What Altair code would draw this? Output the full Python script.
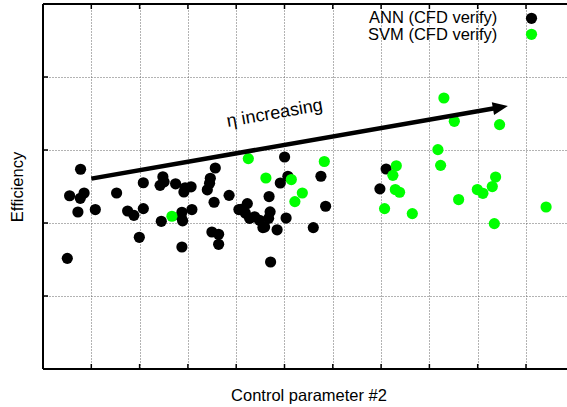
import altair as alt
import pandas as pd

# ---- data (axis units: grid lines at integers) ----
series_names = ["ANN (CFD verify)", "SVM (CFD verify)"]

ann_x = [0.778, 0.551, 0.772, 0.851, 0.723, 1.083, 0.503, 1.524, 1.752, 1.882,
         2.077, 1.994, 2.077, 2.482, 2.424, 2.507, 2.745, 2.942, 2.917, 3.066,
         2.449, 2.876, 2.890, 2.859, 3.083, 2.876, 3.497, 3.636, 3.636, 3.567,
         3.464, 3.449, 3.402, 3.542, 3.853, 4.056, 5.002, 5.070, 4.913, 4.681,
         4.230, 4.101, 4.188, 4.277, 4.381, 4.484, 4.588, 4.702, 4.671, 4.553,
         4.847, 5.033, 4.712, 5.596, 5.754, 5.851, 7.104, 6.975]
ann_y = [2.736, 2.373, 2.338, 2.411, 2.151, 2.184, 1.516, 2.411, 2.164, 2.105,
         2.197, 1.804, 2.551, 2.633, 2.516, 2.564, 2.537, 2.482, 2.425, 2.496,
         2.023, 2.147, 2.030, 2.085, 2.184, 1.671, 1.877, 1.845, 1.708, 2.753,
         2.612, 2.544, 2.455, 2.284, 2.379, 2.184, 2.904, 2.640, 2.548, 2.362,
         2.266, 2.188, 2.137, 2.064, 2.085, 2.037, 1.945, 2.153, 2.064, 1.937,
         1.907, 2.068, 1.466, 1.937, 2.640, 2.229, 2.740, 2.468]

svm_x = [2.669, 4.251, 4.615, 5.141, 5.369, 5.215, 5.824, 7.315, 7.244, 7.294,
         7.383, 7.072, 7.646, 8.300, 8.516, 9.453, 8.176, 8.232, 9.371, 9.302,
         8.992, 9.108, 8.605, 10.416, 9.344]
svm_y = [2.092, 2.882, 2.616, 2.595, 2.411, 2.293, 2.842, 2.784, 2.653, 2.458,
         2.421, 2.197, 2.129, 3.712, 3.393, 3.348, 3.005, 2.790, 2.630, 2.499,
         2.458, 2.407, 2.321, 2.219, 1.992]

# annotation arrow (start, head centre) and its label
arrow_x = [1.0, 9.47]
arrow_y = [2.608, 3.585]
label_text = ["\u03b7 increasing"]
label_x = [4.816]
label_y = [3.43]

x_ticks = [1, 2, 3, 4, 5, 6, 7, 8, 9, 10]
y_ticks = [1, 2, 3, 4]

# ---- layout ----
W, H = 524, 365
XMAX = W / 48.3
YMAX = 5
FONT = "Liberation Sans"
colors = ["#000000", "#00ff00"]
DOT = 125

xs = alt.Scale(domain=[0, XMAX], nice=False, zero=False)
ys = alt.Scale(domain=[0, YMAX], nice=False, zero=False)

df_ann = pd.DataFrame({"x": ann_x, "y": ann_y, "series": series_names[0]})
df_svm = pd.DataFrame({"x": svm_x, "y": svm_y, "series": series_names[1]})
df_arrow = pd.DataFrame({"x": arrow_x, "y": arrow_y})
df_head = df_arrow.iloc[[1]]
df_label = pd.DataFrame({"x": label_x, "y": label_y, "t": label_text})
df_xt = pd.DataFrame({"v": x_ticks})
df_yt = pd.DataFrame({"v": y_ticks})

grid_style = dict(gridColor="#666666", gridDash=[1, 2], gridWidth=1, gridOpacity=1)

x_axis = alt.Axis(values=x_ticks, grid=True, labels=False, ticks=False, domain=False,
                  title="Control parameter #2", titleFont=FONT, titleFontSize=16.5,
                  titleFontWeight="normal", titleColor="#000000",
                  titleX=265.5, titleY=31, titleBaseline="alphabetic", titleAlign="center",
                  **grid_style)
y_axis = alt.Axis(values=y_ticks, grid=True, labels=False, ticks=False, domain=False,
                  title="Efficiency", titleFont=FONT, titleFontSize=16.5,
                  titleFontWeight="normal", titleColor="#000000",
                  titleAngle=270, titleX=-21, titleY=H / 2, titleBaseline="alphabetic",
                  titleAlign="center", **grid_style)

base_ann = alt.Chart(df_ann).mark_circle(size=DOT, opacity=1, color=colors[0]).encode(
    x=alt.X("x:Q", scale=xs, axis=x_axis),
    y=alt.Y("y:Q", scale=ys, axis=y_axis),
)
pts_svm = alt.Chart(df_svm).mark_circle(size=DOT, opacity=1, color=colors[1]).encode(
    x=alt.X("x:Q", scale=xs), y=alt.Y("y:Q", scale=ys)
)

arrow_line = alt.Chart(df_arrow).mark_line(color="black", strokeWidth=4.5, strokeCap="butt").encode(
    x=alt.X("x:Q", scale=xs), y=alt.Y("y:Q", scale=ys)
)
arrow_head = alt.Chart(df_head).mark_point(
    shape="M -1 -0.85 L 1 0 L -1 0.85 Z", size=230, filled=True, color="black",
    opacity=1, angle=350, strokeWidth=0
).encode(x=alt.X("x:Q", scale=xs), y=alt.Y("y:Q", scale=ys))

label = alt.Chart(df_label).mark_text(
    font=FONT, fontSize=18, angle=350, align="center", baseline="alphabetic", color="black"
).encode(x=alt.X("x:Q", scale=xs), y=alt.Y("y:Q", scale=ys), text="t:N")

# frame and inward ticks
top_ticks = alt.Chart(df_xt).mark_rule(color="black", strokeWidth=1.5).encode(
    x=alt.X("v:Q", scale=xs), y=alt.value(0), y2=alt.value(5))
bot_ticks = alt.Chart(df_xt).mark_rule(color="black", strokeWidth=1.5).encode(
    x=alt.X("v:Q", scale=xs), y=alt.value(H), y2=alt.value(H - 5))
left_ticks = alt.Chart(df_yt).mark_rule(color="black", strokeWidth=1.5).encode(
    y=alt.Y("v:Q", scale=ys), x=alt.value(0), x2=alt.value(5))
frame_top = alt.Chart(df_xt).mark_rule(color="black", strokeWidth=2).encode(
    x=alt.value(0), x2=alt.value(W), y=alt.value(0))
frame_bot = alt.Chart(df_xt).mark_rule(color="black", strokeWidth=2).encode(
    x=alt.value(0), x2=alt.value(W), y=alt.value(H))
frame_left = alt.Chart(df_xt).mark_rule(color="black", strokeWidth=2).encode(
    x=alt.value(0), y=alt.value(0), y2=alt.value(H))

# key (gnuplot style: label right-aligned, symbol on the right)
key_layers = []
for i, name in enumerate(series_names):
    dfk = pd.DataFrame({"series": [name]})
    key_layers.append(alt.Chart(dfk).mark_text(
        font=FONT, fontSize=16.5, align="right", baseline="alphabetic", color="black"
    ).encode(text="series:N", x=alt.value(454.3), y=alt.value(19.3 + 16.7 * i)))
    key_layers.append(alt.Chart(dfk).mark_circle(size=DOT, opacity=1, color=colors[i]).encode(
        x=alt.value(488.5), y=alt.value(14.3 + 16.0 * i)))

chart = alt.layer(
    base_ann, pts_svm, arrow_line, arrow_head, label,
    top_ticks, bot_ticks, left_ticks, frame_top, frame_bot, frame_left,
    *key_layers
).properties(
    width=W, height=H,
    autosize=alt.AutoSizeParams(type="none"),
    padding={"left": 43, "top": 4, "right": 0, "bottom": 38},
    background="white",
).configure_view(stroke=None)

chart.save("out.html", embed_options={"renderer": "svg", "actions": False})
